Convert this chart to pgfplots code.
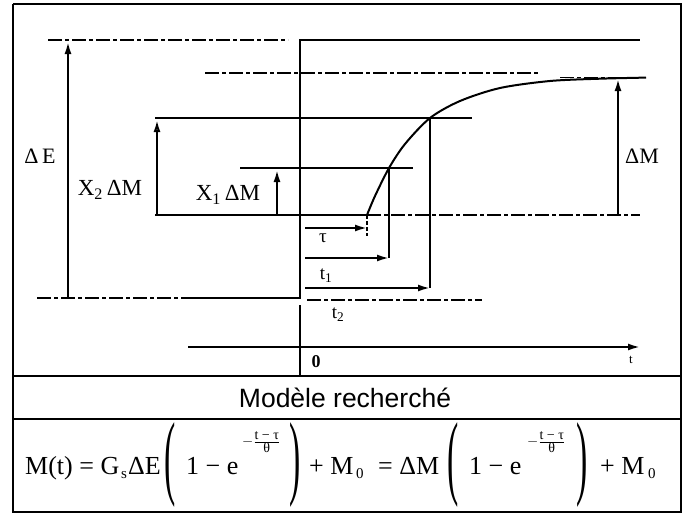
\documentclass[border=0pt]{standalone}
\usepackage{pgfplots}
\pgfplotsset{compat=1.18}
\usepackage{fontspec}
\setmainfont{Liberation Serif}
\newfontfamily\arialfont{Liberation Sans}
\usetikzlibrary{arrows.meta}

\tikzset{
  thick line/.style={line width=2pt, black},
  dashdot/.style={line width=1.6pt, black, dash pattern=on 14pt off 3pt on 4pt off 3pt},
  head/.style={-{Latex[length=12pt,width=7pt]}},
  openhead/.style={-{Latex[open,length=12pt,width=7pt]}},
  fml/.style={anchor=base west, inner sep=0pt, font=\fontsize{26}{28}\selectfont},
  fsub/.style={anchor=base west, inner sep=0pt, font=\fontsize{15}{16}\selectfont},
  fexp/.style={anchor=west, inner sep=0pt, font=\fontsize{14}{14}\selectfont},
}
% tall parentheses of the model formula
\newcommand{\tallL}{\raisebox{-13pt}{\scalebox{1.3}[3.6]{(}}}
\newcommand{\tallR}{\raisebox{-13pt}{\scalebox{1.3}[3.6]{)}}}
\newcommand{\expo}{$-\frac{\mbox{t − τ}}{\mbox{θ}}$}

\begin{document}
\begin{tikzpicture}
\begin{axis}[
  scale only axis, width=684pt, height=514pt,
  xmin=0, xmax=684, ymin=0, ymax=514, y dir=reverse,
  hide axis, clip=false,
]
% full page extent
\addplot[draw=none] coordinates {(0,0) (684,514)};
% outer frame and the two rows of the table
\addplot[line width=2.2pt] coordinates {(13,4) (681,4) (681,512) (13,512) (13,4)};
\addplot[line width=2pt] coordinates {(13,376) (681,376)};
\addplot[line width=2pt] coordinates {(13,419) (681,419)};

% step input E(t)
\addplot[dashdot] coordinates {(37,298) (190,298)};
\addplot[thick line] coordinates {(190,298) (300,298) (300,40) (640,40)};
\addplot[dashdot] coordinates {(48,40) (288,40)};
\addplot[dashdot] coordinates {(307,300) (482,300)};
% Delta E arrow
\addplot[thick line, head] coordinates {(68,298) (68,42)};

% response M(t)
\addplot[dashdot] coordinates {(205,73) (539,73)};
\addplot[thick line, smooth] coordinates {
 (367,215) (375,196) (389,168) (405,144) (430,118) (460,101)
 (500,88) (550,81) (600,78.7) (646,77.6)};
\addplot[dashdot] coordinates {(560,77.6) (646,77.6)};
% base level of the response
\addplot[thick line] coordinates {(155,215) (367,215)};
\addplot[dashdot] coordinates {(367,215) (640,215)};
% Delta M arrow
\addplot[thick line, head] coordinates {(618,215) (618,79)};

% X2 level
\addplot[thick line] coordinates {(155,118) (472,118)};
\addplot[thick line, openhead] coordinates {(157,215) (157,120)};
% X1 level
\addplot[thick line] coordinates {(240,168) (413,168)};
\addplot[thick line, head] coordinates {(277,215) (277,170)};

% reading the times
\addplot[line width=1.3pt, dash pattern=on 4pt off 2pt] coordinates {(367,215) (367,236)};
\addplot[thick line] coordinates {(389,168) (389,258)};
\addplot[thick line] coordinates {(430,118) (430,288)};
\addplot[thick line, head] coordinates {(305,228) (367,228)};
\addplot[thick line, head] coordinates {(305,258) (389,258)};
\addplot[thick line, head] coordinates {(305,288) (430,288)};

% time axis
\addplot[thick line] coordinates {(300,305) (300,376)};
\addplot[thick line, head] coordinates {(188,347) (640,347)};

% labels
\node[font=\fontsize{22}{24}\selectfont] at (axis cs:40,156) {Δ\,E};
\node[font=\fontsize{23}{24}\selectfont] at (axis cs:110,190) {X\textsubscript{2}\,ΔM};
\node[font=\fontsize{23}{24}\selectfont] at (axis cs:228,195) {X\textsubscript{1}\,ΔM};
\node[font=\fontsize{22}{24}\selectfont] at (axis cs:642,156) {ΔM};
\node[font=\fontsize{19}{20}\selectfont] at (axis cs:323,238) {τ};
\node[font=\fontsize{19}{20}\selectfont] at (axis cs:326,276) {t\textsubscript{1}};
\node[font=\fontsize{19}{20}\selectfont] at (axis cs:338,315) {t\textsubscript{2}};
\node[font=\bfseries\fontsize{18}{20}\selectfont] at (axis cs:316,362) {0};
\node[font=\fontsize{13}{14}\selectfont] at (axis cs:631,360) {t};

\node[font=\arialfont\fontsize{26.5}{28}\selectfont] at (axis cs:345,398) {Modèle recherché};

% the model formula, piece by piece on one baseline
\node[fml] at (axis cs:25,474) {M(t) = G};
\node[fsub] at (axis cs:121,478) {s};
\node[fml] at (axis cs:128,474) {ΔE};
\node[fml] at (axis cs:164,474) {\tallL};
\node[fml] at (axis cs:186,474) {1 − e};
\node[fexp] at (axis cs:242,442) {\expo};
\node[fml] at (axis cs:289,474) {\tallR};
\node[fml] at (axis cs:309,474) {+ M};
\node[fsub] at (axis cs:356,478) {0};
\node[fml] at (axis cs:378,474) {= ΔM};
\node[fml] at (axis cs:447,474) {\tallL};
\node[fml] at (axis cs:469,474) {1 − e};
\node[fexp] at (axis cs:527,442) {\expo};
\node[fml] at (axis cs:576,474) {\tallR};
\node[fml] at (axis cs:600,474) {+ M};
\node[fsub] at (axis cs:648,478) {0};
\end{axis}
\end{tikzpicture}
\end{document}
